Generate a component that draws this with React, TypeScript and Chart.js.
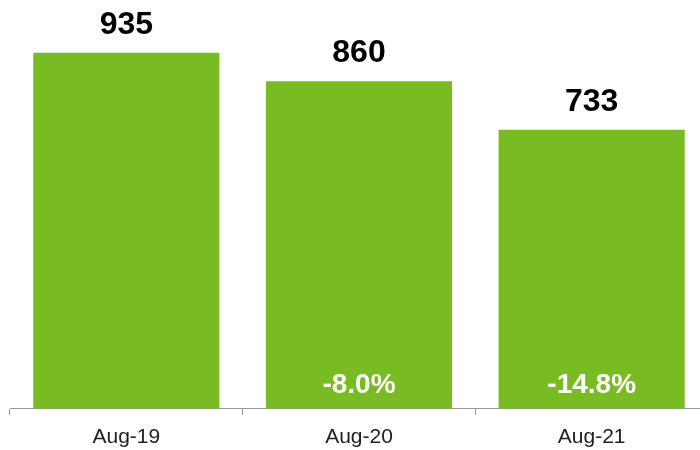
import React, { useEffect, useRef } from "react";
import { Chart, registerables } from "chart.js";

Chart.register(...registerables);

const categories = ["Aug-19", "Aug-20", "Aug-21"];
const values = [935, 860, 733];
const changeLabels = ["", "-8.0%", "-14.8%"];

const GREEN = "#79BB22";
const FONT = "'Liberation Sans', Arial, Helvetica, sans-serif";

const labelPlugin = {
  id: "barLabels",
  afterDatasetsDraw(chart: any) {
    const ctx = chart.ctx;
    const meta = chart.getDatasetMeta(0);
    ctx.save();
    ctx.textAlign = "center";
    ctx.textBaseline = "alphabetic";
    meta.data.forEach((bar: any, i: number) => {
      ctx.fillStyle = "#000";
      ctx.font = `bold 32px ${FONT}`;
      ctx.fillText(String(values[i]), bar.x, bar.y - 19);
      if (changeLabels[i]) {
        ctx.fillStyle = "#fff";
        ctx.font = `bold 28px ${FONT}`;
        ctx.fillText(changeLabels[i], bar.x, bar.base - 16);
      }
    });
    ctx.restore();
  },
};

export default function App() {
  const ref = useRef<HTMLCanvasElement>(null);
  useEffect(() => {
    document.body.style.margin = "0";
    document.body.style.overflow = "hidden";
    const chart = new Chart(ref.current!, {
      type: "bar",
      data: {
        labels: categories,
        datasets: [
          {
            data: values,
            backgroundColor: GREEN,
            borderWidth: 0,
            categoryPercentage: 1,
            barPercentage: 0.8,
          },
        ],
      },
      options: {
        animation: false,
        responsive: false,
        maintainAspectRatio: false,
        layout: { padding: { left: 10, right: 0, top: 28, bottom: -10 } },
        plugins: { legend: { display: false }, tooltip: { enabled: false } },
        scales: {
          y: { display: false, min: 0, max: 1000 },
          x: {
            offset: true,
            border: { display: true, color: "#9a9a9a", width: 1 },
            grid: {
              display: true,
              drawOnChartArea: false,
              drawTicks: true,
              tickLength: 6,
              color: "#9a9a9a",
              offset: true,
            },
            ticks: {
              color: "#222",
              font: { family: FONT, size: 21 },
              padding: 10,
            },
          },
        },
      },
      plugins: [labelPlugin],
    });
    return () => chart.destroy();
  }, []);
  return (
    <div style={{ width: 708, height: 450, position: "relative" }}>
      <canvas ref={ref} width={708} height={450} style={{ display: "block" }} />
    </div>
  );
}
